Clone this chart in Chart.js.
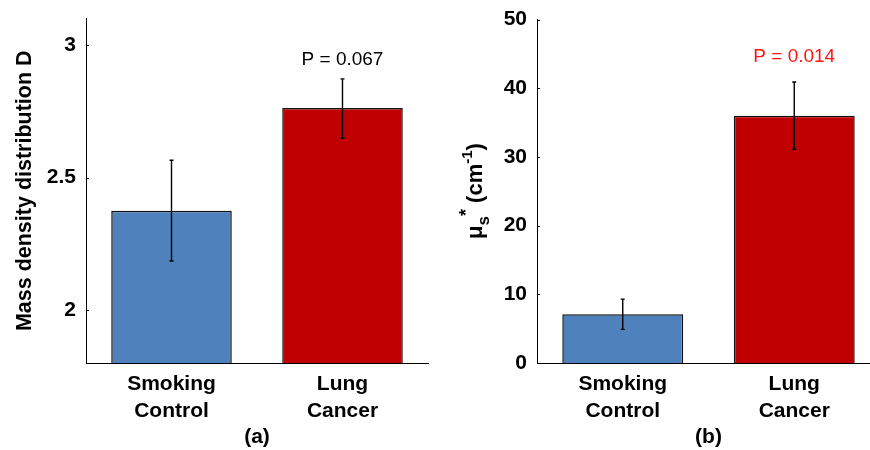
<!DOCTYPE html>
<html>
<head>
<meta charset="utf-8">
<script src="https://cdn.jsdelivr.net/npm/chart.js@4.4.0/dist/chart.umd.min.js"></script>
<style>
  html, body { margin: 0; padding: 0; background: #fff; overflow: hidden; }
  #wrap { position: relative; width: 870px; height: 450px; overflow: hidden; }
  #chartA { position: absolute; left: 0; top: 0; }
  #chartB { position: absolute; left: 435px; top: 0; }
</style>
</head>
<body>
<div id="wrap">
  <canvas id="chartA" width="435" height="450" style="width:435px;height:450px"></canvas>
  <canvas id="chartB" width="445" height="450" style="width:445px;height:450px"></canvas>
</div>
<script>
// data
const groups = [['Smoking', 'Control'], ['Lung', 'Cancer']];
const massDensity = [2.375, 2.762];
const massDensityErr = [[2.185, 2.565], [2.648, 2.872]];
const scattering = [7.1, 36.0];
const scatteringErr = [[4.9, 9.3], [31.1, 40.9]];
const massTicks = [2, 2.5, 3];
const scatterTicks = [0, 10, 20, 30, 40, 50];
const pLabels = ['P = 0.067', 'P = 0.014'];

const FONT = "'Liberation Sans', Arial, sans-serif";
const barColors = ['#4F81BD', '#C00000'];

// error bars, inward tick marks, p-value text, custom y title
const extras = {
    id: 'extras',
    afterDatasetsDraw(chart, args, opts) {
        const ctx = chart.ctx;
        const y = chart.scales.y;
        const area = chart.chartArea;
        const bars = chart.getDatasetMeta(0).data;
        ctx.save();
        ctx.strokeStyle = '#000';
        ctx.lineWidth = 1.4;
        bars.forEach((bar, i) => {
            const lo = y.getPixelForValue(opts.errs[i][0]);
            const hi = y.getPixelForValue(opts.errs[i][1]);
            ctx.beginPath();
            ctx.moveTo(bar.x, lo);
            ctx.lineTo(bar.x, hi);
            ctx.moveTo(bar.x - 2, lo);
            ctx.lineTo(bar.x + 2, lo);
            ctx.moveTo(bar.x - 2, hi);
            ctx.lineTo(bar.x + 2, hi);
            ctx.stroke();
        });
        // small ticks pointing into the plot
        ctx.lineWidth = 1;
        opts.ticks.forEach(v => {
            const py = Math.round(y.getPixelForValue(v)) + 0.5;
            ctx.beginPath();
            ctx.moveTo(area.left, py);
            ctx.lineTo(area.left + 3, py);
            ctx.stroke();
        });
        // p value above second bar
        const last = bars[bars.length - 1];
        ctx.fillStyle = opts.pColor;
        ctx.font = '19px ' + FONT;
        ctx.textAlign = 'center';
        ctx.textBaseline = 'middle';
        ctx.fillText(opts.pText, last.x, y.getPixelForValue(opts.errs[1][1]) - opts.pOffset);

        if (opts.muTitle) {
            // mu_s* (cm^-1), rotated
            ctx.fillStyle = '#000';
            ctx.translate(opts.muTitle.x, opts.muTitle.y);
            ctx.rotate(-Math.PI / 2);
            ctx.textAlign = 'left';
            ctx.textBaseline = 'alphabetic';
            const parts = [
                {t: 'μ', f: 'bold 22px ', dy: 0},
                {t: 's', f: 'bold 17px ', dy: 7},
                {t: '*', f: 'bold 18px ', dy: -10},
                {t: ' (cm', f: 'bold 22px ', dy: 0},
                {t: '-1', f: 'bold 15px ', dy: -10},
                {t: ')', f: 'bold 22px ', dy: 0}
            ];
            let total = 0;
            parts.forEach(p => { ctx.font = p.f + FONT; p.w = ctx.measureText(p.t).width; total += p.w; });
            let cx = -total / 2;
            parts.forEach(p => {
                ctx.font = p.f + FONT;
                ctx.fillText(p.t, cx, p.dy);
                cx += p.w;
            });
        }
        ctx.restore();
    }
};

function makeChart(id, values, errs, ticks, yMin, yMax, cfg) {
    return new Chart(document.getElementById(id), {
        type: 'bar',
        data: {
            labels: groups,
            datasets: [{
                data: values,
                backgroundColor: barColors,
                borderColor: '#111',
                borderWidth: 1.5,
                borderSkipped: 'start',
                categoryPercentage: 1,
                barPercentage: 0.705
            }]
        },
        options: {
            responsive: false,
            animation: false,
            layout: {padding: {top: cfg.top, right: cfg.right, left: 0, bottom: 0}},
            plugins: {
                legend: {display: false},
                tooltip: {enabled: false},
                extras: {errs: errs, ticks: ticks, pText: cfg.pText, pColor: cfg.pColor, pOffset: cfg.pOffset, muTitle: cfg.muTitle}
            },
            scales: {
                x: {
                    grid: {display: false, drawTicks: false},
                    border: {display: true, color: '#000', width: 1},
                    ticks: {color: '#000', padding: 7.5, font: {family: FONT, size: 21, weight: 'bold', lineHeight: 1.29}},
                    title: {display: true, text: cfg.panel, color: '#000', padding: {top: 0, bottom: 0.5},
                        font: {family: FONT, size: 21, weight: 'bold'}},
                    afterFit: s => {
                        s.height = 87;
                        s.paddingLeft = 0;
                        s.paddingRight = 0;
                    }
                },
                y: {
                    min: yMin,
                    max: yMax,
                    grid: {display: false, drawTicks: false},
                    border: {display: true, color: '#000', width: 1},
                    afterBuildTicks: s => { s.ticks = ticks.map(v => ({value: v})); },
                    ticks: {color: '#000', padding: 10, font: {family: FONT, size: 21, weight: 'bold'},
                        callback: v => String(v)},
                    title: {display: !!cfg.yTitle, text: cfg.yTitle || '', color: '#000', padding: {top: 12.5, bottom: 0},
                        font: {family: FONT, size: 21.5, weight: 'bold'}},
                    afterFit: s => {
                        s.width = cfg.yWidth;
                        s.paddingTop = 0;
                        s.paddingBottom = 0;
                    }
                }
            }
        },
        plugins: [extras]
    });
}

makeChart('chartA', massDensity, massDensityErr, massTicks, 1.8, 3.1, {
    top: 18.5, right: 7, yWidth: 86, panel: '(a)',
    yTitle: 'Mass density distribution D',
    pText: pLabels[0], pColor: '#000', pOffset: 19
});

makeChart('chartB', scattering, scatteringErr, scatterTicks, 0, 50, {
    top: 19.5, right: 0, yWidth: 102, panel: '(b)',
    pText: pLabels[1], pColor: '#ff1414', pOffset: 25,
    muTitle: {x: 47, y: 191}
});
</script>
</body>
</html>
